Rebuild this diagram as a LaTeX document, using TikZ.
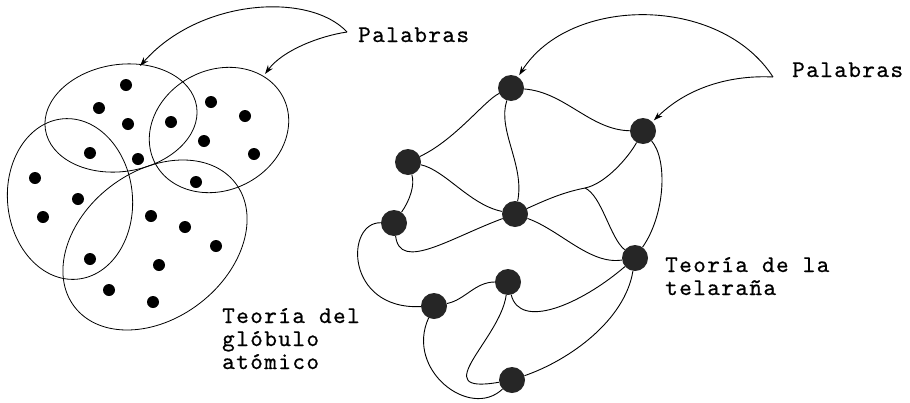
\documentclass[tikz,border=0pt]{standalone}
\usepackage{fontspec}
\newfontfamily\tw{lmmono10-regular.otf}[LetterSpace=6,FakeBold=0.6]
\usetikzlibrary{arrows.meta,shapes.geometric}
\begin{document}
\begin{tikzpicture}[x=1pt,y=-1pt,
  wire/.style={line width=0.9pt},
  ring/.style={ellipse,draw,line width=0.8pt,inner sep=0pt},
  dot/.style={circle,fill=black,inner sep=0pt,minimum size=12pt},
  knot/.style={circle,fill=black!85,inner sep=0pt,minimum size=26pt},
  lbl/.style={font=\tw\fontsize{24}{23}\selectfont,inner sep=0pt,align=left},
  ptr/.style={line width=0.9pt,-{Stealth[length=9pt,width=6pt]}}]
\useasboundingbox (0,0) rectangle (910,402);

% ---------- left: atomic globule ----------
\node[ring,minimum width=153pt,minimum height=107pt,rotate=8.6] (eT) at (121,118) {};
\node[ring,minimum width=144pt,minimum height=120pt,rotate=27] (eR) at (219,130) {};
\node[ring,minimum width=125pt,minimum height=161pt,rotate=5] (eL) at (70,199) {};
\node[ring,minimum width=203pt,minimum height=147pt,rotate=37.6] (eB) at (155,245) {};

\foreach \i/\p in {1/{(126,85)},2/{(99,108)},3/{(128,124)},4/{(171,122)},5/{(211,102)},
  6/{(245,116)},7/{(204,141)},8/{(254,154)},9/{(90,153)},10/{(138,159)},11/{(35,178)},
  12/{(78,199)},13/{(43,217)},14/{(196,182)},15/{(151,216)},16/{(185,227)},17/{(216,246)},
  18/{(159,265)},19/{(90,259)},20/{(109,290)},21/{(153,302)}}
  \node[dot] (d\i) at \p {};

\coordinate (pL) at (347,32);
\coordinate (tipLo) at (140,66);
\coordinate (tipLi) at (265,74);
\draw[ptr] (pL) .. controls (310,-8) and (200,-2) .. (tipLo);
\draw[ptr] (pL) .. controls (320,36) and (283,50) .. (tipLi);

\node[lbl,anchor=base west] (wL) at (358,42) {Palabras};
\node[lbl,anchor=base west] (tG) at (222,369) {Teoría del\\glóbulo\\atómico};

% ---------- right: spider web ----------
\node[knot] (N1) at (511,88) {};
\node[knot] (N2) at (643,131) {};
\node[knot] (N3) at (408,162) {};
\node[knot] (N4) at (515,214) {};
\node[knot] (N5) at (394,223) {};
\node[knot] (N6) at (635,258) {};
\node[knot] (N7) at (508,282) {};
\node[knot] (N8) at (434,306) {};
\node[knot] (N9) at (512,380) {};
\coordinate (J) at (585,188);

\draw[wire] (N1) .. controls (485,100) and (455,140) .. (N3);
\draw[wire] (N1) .. controls (497,130) and (525,165) .. (N4);
\draw[wire] (N1) .. controls (565,92) and (590,130) .. (N2);
\draw[wire] (N3) .. controls (415,185) and (410,200) .. (N5);
\draw[wire] (N3) .. controls (445,170) and (470,205) .. (N4);
\draw[wire] (N5) .. controls (400,272) and (450,238) .. (N4);
\draw[wire] (N4) .. controls (550,198) and (565,192) .. (J) .. controls (605,184) and (628,158) .. (N2);
\draw[wire] (J) .. controls (602,196) and (610,238) .. (N6);
\draw[wire] (N2) .. controls (668,160) and (665,215) .. (N6);
\draw[wire] (N4) .. controls (560,230) and (590,265) .. (N6);
\draw[wire] (N5) .. controls (345,222) and (345,310) .. (N8);
\draw[wire] (N8) .. controls (465,300) and (475,282) .. (N7);
\draw[wire] (N7) .. controls (520,330) and (580,305) .. (N6);
\draw[wire] (N6) .. controls (625,320) and (570,360) .. (N9);
\draw[wire] (N7) .. controls (500,340) and (425,395) .. (N9);
\draw[wire] (N8) .. controls (405,370) and (470,420) .. (N9);

\coordinate (pR) at (773,77);
\draw[ptr,shorten >=2pt] (pR) .. controls (720,-5) and (570,-5) .. (N1);
\draw[ptr,shorten >=2pt] (pR) .. controls (735,75) and (690,85) .. (N2);

\node[lbl,anchor=base west] (wR) at (792,77) {Palabras};
\node[lbl,anchor=base west] (tW) at (665,295) {Teoría de la\\telaraña};
\end{tikzpicture}
\end{document}
